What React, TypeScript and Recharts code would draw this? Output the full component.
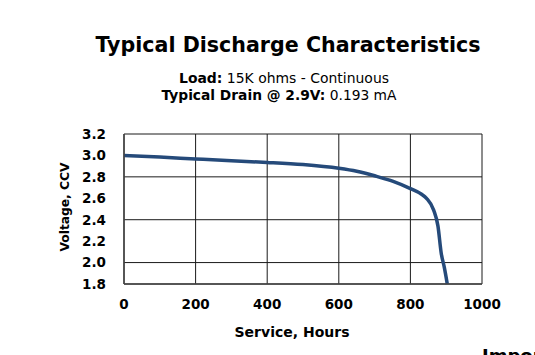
import React from 'react';
import { LineChart, Line, XAxis, YAxis, CartesianGrid } from 'recharts';

// service hours vs closed circuit voltage
const hours = [0, 100, 200, 300, 400, 500, 600, 650, 700, 750, 800, 830, 845, 865, 877, 886, 895, 903];
const voltage = [3.0, 2.985, 2.967, 2.95, 2.935, 2.915, 2.88, 2.852, 2.81, 2.76, 2.69, 2.64, 2.6, 2.49, 2.34, 2.09, 1.95, 1.8];

const xTicks = [0, 200, 400, 600, 800, 1000];
const yTicks = [1.8, 2.0, 2.2, 2.4, 2.6, 2.8, 3.0, 3.2];

const title = 'Typical Discharge Characteristics';
const loadLabel = 'Load:';
const loadText = ' 15K ohms - Continuous';
const drainLabel = 'Typical Drain @ 2.9V:';
const drainText = ' 0.193 mA';
const xLabel = 'Service, Hours';
const yLabel = 'Voltage, CCV';

const font = '"DejaVu Sans", Verdana, sans-serif';

const App: React.FC = () => {
  const data = hours.map((h, i) => ({ hours: h, volts: voltage[i] }));

  return (
    <div style={{ position: 'absolute', left: 0, top: 0, width: 535, height: 355, background: '#fff', fontFamily: font }}>
      <LineChart
        width={535}
        height={355}
        data={data}
        margin={{ top: 134, right: 53, bottom: 41, left: 84 }}
      >
        <CartesianGrid stroke="#1a1a1a" strokeWidth={1} />
        <XAxis
          dataKey="hours"
          type="number"
          domain={[0, 1000]}
          ticks={xTicks}
          height={30}
          tickSize={0}
          tickMargin={15}
          axisLine={{ stroke: '#444', strokeWidth: 1.5 }}
          tick={{ fill: '#000', fontSize: 13.5, fontWeight: 'bold', fontFamily: font }}
        />
        <YAxis
          type="number"
          domain={[1.8, 3.2]}
          ticks={yTicks}
          width={40}
          tickSize={0}
          tickMargin={18}
          axisLine={{ stroke: '#444', strokeWidth: 1.5 }}
          tickFormatter={(v: number) => v.toFixed(1)}
          tick={{ fill: '#000', fontSize: 13.5, fontWeight: 'bold', fontFamily: font }}
        />
        <Line
          type="monotone"
          dataKey="volts"
          stroke="#254a7a"
          strokeWidth={3.5}
          dot={false}
          isAnimationActive={false}
        />
      </LineChart>
      <svg
        width={535}
        height={355}
        style={{ position: 'absolute', left: 0, top: 0, pointerEvents: 'none' }}
        fontFamily={font}
      >
        <text x={288} y={52} textAnchor="middle" fontSize={22} fontWeight="bold" textLength={385} lengthAdjust="spacingAndGlyphs">
          {title}
        </text>
        <text x={284} y={83} textAnchor="middle" fontSize={13.5} textLength={210} lengthAdjust="spacingAndGlyphs">
          <tspan fontWeight="bold">{loadLabel}</tspan>
          <tspan>{loadText}</tspan>
        </text>
        <text x={279} y={100} textAnchor="middle" fontSize={13.5} textLength={235} lengthAdjust="spacingAndGlyphs">
          <tspan fontWeight="bold">{drainLabel}</tspan>
          <tspan>{drainText}</tspan>
        </text>
        <text x={292} y={337} textAnchor="middle" fontSize={14} fontWeight="bold">
          {xLabel}
        </text>
        <text
          x={0}
          y={0}
          transform="translate(69 207) rotate(-90)"
          textAnchor="middle"
          fontSize={13}
          fontWeight="bold"
          textLength={89}
          lengthAdjust="spacingAndGlyphs"
        >
          {yLabel}
        </text>
        <text x={482} y={362} fontSize={18} fontWeight="bold">
          Important
        </text>
      </svg>
    </div>
  );
};

export default App;
